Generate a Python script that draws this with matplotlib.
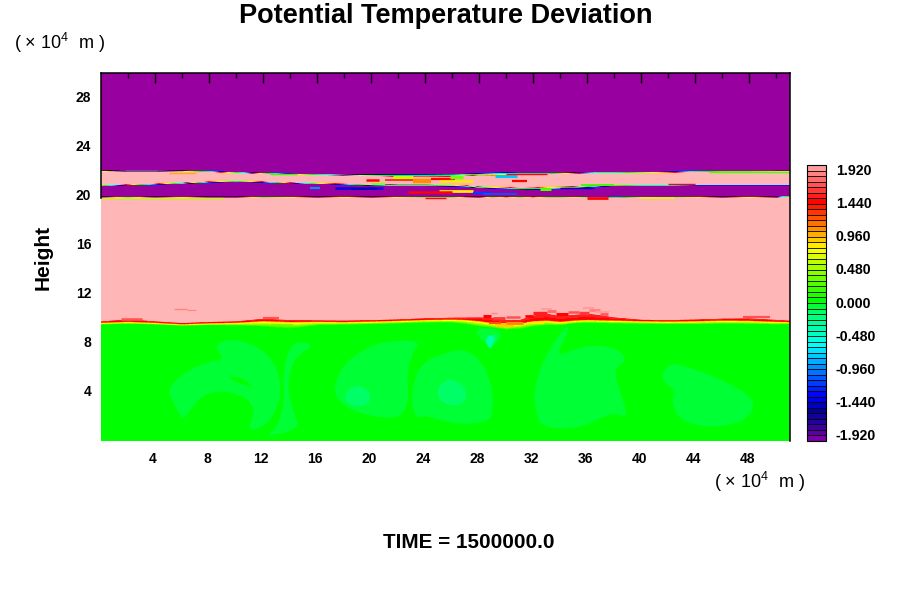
import numpy as np
import matplotlib
matplotlib.use("Agg")
import matplotlib.pyplot as plt
from matplotlib.colors import LinearSegmentedColormap, Normalize
from matplotlib.cm import ScalarMappable
from matplotlib.path import Path
from matplotlib.patches import PathPatch
from matplotlib.transforms import ScaledTranslation

plt.rcParams['font.family'] = ['Liberation Sans', 'DejaVu Sans']
plt.rcParams['mathtext.default'] = 'regular'

TITLE = "Potential Temperature Deviation"
TIME_LABEL = "TIME = 1500000.0"
Y_LABEL = "Height"
UNIT = r"( $\times$ 10$^{4}$  m )"

stations = [0,2,4,6,8,10,12,14,16,18,20,22,24,26,27,28,29,30,31,32,33,34,35,36,37,38,40,42,44,46,48,50,51]
tropopause = [9.72,9.8,9.72,9.6,9.68,9.72,9.85,9.78,9.8,9.78,9.82,9.88,9.95,9.98,9.95,9.85,9.7,9.5,9.65,9.85,9.9,9.8,9.9,9.95,9.92,9.9,9.85,9.82,9.85,9.9,9.88,9.8,9.78]
fringe_below = [.2,.25,.2,.18,.22,.28,.5,.6,.35,.28,.28,.28,.28,.3,.4,.5,.45,.4,.5,.5,.45,.35,.3,.3,.3,.3,.28,.28,.32,.32,.32,.28,.22]
red_above = [.05,.14,.06,.04,.05,.06,.14,.1,.06,.06,.06,.06,.08,.1,.14,.25,.35,.4,.25,.4,.5,.4,.4,.45,.35,.2,.06,.06,.08,.1,.14,.1,.06]
stratus_base = [19.85,19.82,19.85,19.83,19.85,19.85,19.82,19.83,19.85,19.83,19.85,19.83,19.82,19.82,19.84,19.85,19.82,19.84,19.82,19.84,19.82,19.82,19.83,19.82,19.83,19.8,19.83,19.82,19.83,19.85,19.83,19.85,19.9]
mid_layer = [20.86,20.92,20.98,21.05,21.15,21.2,21.15,21.08,21.02,20.98,20.92,20.88,20.88,20.85,20.82,20.72,20.68,20.66,20.62,20.62,20.65,20.68,20.72,20.78,20.84,20.86,20.88,20.88,20.9,20.9,20.9,20.9,20.9]
mid_width = [.06,.06,.07,.08,.08,.08,.07,.06,.06,.07,.1,.1,.1,.1,.1,.1,.1,.1,.1,.12,.16,.14,.12,.12,.1,.08,.06,.06,.06,.06,.06,.06,.06]
top_layer = [21.95,21.98,21.98,21.96,21.92,21.85,21.78,21.72,21.68,21.65,21.62,21.6,21.6,21.62,21.66,21.7,21.72,21.74,21.75,21.76,21.76,21.78,21.8,21.82,21.84,21.84,21.86,21.88,21.92,21.94,21.94,21.95,21.95]
top_width = [.08,.08,.08,.08,.07,.07,.07,.07,.08,.08,.1,.14,.16,.16,.14,.12,.16,.16,.12,.08,.08,.08,.07,.07,.07,.07,.07,.07,.07,.07,.07,.08,.08]

# (x start, x end, height, width in points, value)
streaks = [
    (15.5,16.2,20.6,1.6,-0.9),(17.3,20.9,20.6,1.8,-1.4),(18.5,20.4,20.52,1.4,-1.5),
    (19.6,20.6,21.25,1.8,1.5),(20.0,21.0,20.95,1.6,0.4),(21.6,23.1,21.56,2.2,0.6),
    (23.1,24.4,21.2,3.2,1.05),(21.0,23.1,21.3,1.2,1.4),(24.4,26.2,21.35,1.6,1.5),
    (25.8,26.8,21.55,2.5,0.35),(25.0,27.5,21.2,1.8,0.85),(29.2,30.8,21.62,2.2,-0.8),
    (30.4,31.5,21.2,1.6,1.5),(25.0,27.5,20.35,2.0,0.8),(22.7,26.0,20.3,1.8,1.5),
    (27.5,28.8,20.25,1.6,-1.2),(28.3,30.8,20.14,1.3,-1.1),(32.5,33.3,20.58,2.2,0.3),
    (34.0,36.5,20.62,1.0,-1.4),(35.5,38.0,20.9,1.3,0.2),
    (5.0,7.0,21.88,1.0,1.0),(12.5,14.5,21.75,1.0,0.2),(30.0,33.0,21.8,1.0,1.5),
    (45.0,51.0,21.92,1.0,0.3),(42.0,44.0,20.95,1.0,1.5),(36.0,37.5,19.78,2.0,1.5),
    (24.0,25.5,19.8,1.0,1.5),(0.0,9.0,19.82,1.0,0.6),(40.0,42.5,19.8,1.2,0.7),
    (5.4,6.4,10.8,1.0,1.9),(6.4,7.0,10.65,0.8,1.9),
    # ragged top of the troposphere, red and pale red specks
    (28.3,28.9,10.15,2.2,1.5),(29.0,29.9,10.05,2.0,1.6),(30.0,31.0,10.1,1.8,1.7),
    (31.4,32.0,10.15,2.0,1.5),(32.0,33.0,10.4,2.4,1.55),(33.0,33.7,10.62,2.0,1.8),
    (33.7,34.6,10.35,2.2,1.5),(34.6,35.4,10.55,1.8,1.75),(35.4,36.1,10.4,2.4,1.6),
    (36.1,36.9,10.65,2.2,1.85),(36.9,37.5,10.38,1.8,1.7),(32.6,33.4,10.75,1.4,1.95),
    (35.7,36.5,10.85,1.4,1.95),(36.6,37.6,10.55,1.4,1.95),(28.9,29.3,10.4,1.0,1.9),
    (12.0,13.2,10.05,1.6,1.7),(1.5,3.0,9.98,1.8,1.75),(47.5,49.5,10.1,1.6,1.75),
    # yellow patches under it
    (29.2,30.6,9.45,3.0,0.95),(30.0,31.2,9.65,2.2,1.1),(28.7,29.6,9.6,1.6,1.2),
    (31.5,32.8,9.62,1.6,0.8),(33.5,34.5,9.58,1.4,0.7),(12.5,14.2,9.45,1.6,0.35),
]
lobe_value = -0.04
core_value = -0.1
background_value = 0.04
lobes = [
    [(4.89,4.15),(5.89,5.38),(7.74,6.46),(9.24,6.6),(8.24,7.82),(9.91,8.45),(12.59,7.14),(13.43,4.42),(12.93,2.25),(11.92,1.03),(10.75,.89),(11.42,2.25),(10.92,3.47),(9.24,4.1),(7.74,3.88),(6.73,2.79),(6.06,1.57),(5.39,3.07)],
    [(14.1,8.23),(15.94,7.82),(14.27,6.87),(13.76,4.42),(14.27,2.25),(14.77,1.03),(12.09,.29),(13.09,1.16),(13.6,3.34),(13.43,5.51)],
    [(17.11,4.15),(17.95,6.33),(19.96,7.82),(21.97,8.23),(23.64,8.09),(23.14,7.41),(22.64,5.51),(22.81,3.61),(22.3,1.84),(19.96,1.98),(17.95,2.79)],
    [(22.97,4.15),(23.64,6.33),(25.32,7.14),(26.99,7.55),(28.33,6.33),(29.0,4.15),(29.0,2.52),(28.83,1.57),(26.32,1.3),(23.98,2.12),(23.14,1.84)],
    [(32.02,4.15),(32.69,6.6),(34.36,9.45),(34.69,9.04),(33.52,6.73),(35.7,7.82),(38.04,7.69),(39.05,6.6),(37.88,5.92),(38.55,3.61),(39.05,1.84),(37.71,2.39),(35.7,1.03),(32.69,1.03),(32.18,2.25)],
    [(41.39,4.97),(41.89,6.19),(42.73,6.33),(46.08,4.97),(48.59,3.34),(47.76,1.57),(45.08,1.03),(42.73,1.71),(42.23,3.34),(42.56,4.15)],
    [(27.33,9.32),(30.0,9.04),(28.83,7.41)],
]
gaps = [[(9.24,5.24),(10.42,5.19),(11.42,4.29),(10.25,4.7)]]
cores = [
    [(17.95,3.75),(18.95,4.75),(20.13,3.75),(19.62,2.79),(18.29,2.93)],
    [(24.72,4.15),(25.82,5.29),(27.16,4.15),(26.83,2.93),(25.32,2.93)],
    [(28.5,8.2),(29.4,8.9),(29.1,7.6)],
]
spot_value = -0.4
spots = [[(28.4,8.4),(29.1,8.75),(29.0,7.7),(28.7,7.5)]]

x_major = [4,8,12,16,20,24,28,32,36,40,44,48]
x_minor = [2,6,10,14,18,22,26,30,34,38,42,46,50]
y_major = [4,8,12,16,20,24,28]
y_minor = [2,6,10,14,18,22,26]
bar_ticks = [-1.92,-1.44,-0.96,-0.48,0.0,0.48,0.96,1.44,1.92]
bar_labels = ["-1.920","-1.440","-0.960","-0.480","0.000","0.480","0.960","1.440","1.920"]

W, H = 900, 600
fig = plt.figure(figsize=(9, 6), dpi=100, facecolor='white')
ax = fig.add_axes([101/W, 1-441/H, 689/W, 368/H])

nodes = [(-2.0,'#7a00a8'),(-1.8,'#30009a'),(-1.6,'#000099'),(-1.36,'#0000ff'),(-0.96,'#0088ff'),
         (-0.62,'#00ffff'),(-0.48,'#00ffcc'),(-0.12,'#00ff66'),(-0.04,'#00ff33'),(0.04,'#00ff00'),
         (0.8,'#ffff00'),(1.12,'#ff8800'),(1.5,'#ff0000'),(1.75,'#ff5050'),(2.0,'#ff9c9c')]
cmap = LinearSegmentedColormap.from_list('ptd', [((v+2)/4, c) for v, c in nodes], N=50)
cmap.set_under('#9900a0')
cmap.set_over('#ffb6b6')
norm = Normalize(-2, 2)
levels = np.arange(-2, 2.0001, 0.08)

xs = np.array(stations, float)
h = np.array(tropopause); fb = np.array(fringe_below); ra = np.array(red_above)
low = np.array(stratus_base); mid = np.array(mid_layer); mw = np.array(mid_width)
top = np.array(top_layer); tw = np.array(top_width)
rows = [np.zeros_like(h), h-fb, h-0.08, h, h+ra, h+ra+0.1, low-0.07, low+0.07,
        mid-mw, mid+mw, top-tw, top+tw, np.full_like(h, 30.0)]
row_values = [background_value, background_value, 0.9, 1.45, 1.6, 2.5, 2.5, -2.5, -2.5, 2.5, 2.5, -2.5, -2.5]
Y = np.vstack(rows)
X = np.tile(xs, (len(rows), 1))
Z = np.vstack([np.full_like(h, v) for v in row_values])
ax.contourf(X, Y, Z, levels=levels, cmap=cmap, norm=norm, extend='both', zorder=1)


def smooth_patch(points, value, z):
    pts = np.array(points)
    mids = (pts + np.roll(pts, -1, axis=0)) / 2
    verts = [mids[-1]]
    codes = [Path.MOVETO]
    for p, m in zip(pts, mids):
        verts += [p, m]
        codes += [Path.CURVE3, Path.CURVE3]
    ax.add_patch(PathPatch(Path(verts, codes), facecolor=cmap(norm(value)), edgecolor='none', zorder=z))


for poly in lobes:
    smooth_patch(poly, lobe_value, 2)
for poly in gaps:
    smooth_patch(poly, background_value, 3)
for poly in cores:
    smooth_patch(poly, core_value, 3)
for poly in spots:
    smooth_patch(poly, spot_value, 4)
for x0, x1, yy, lw, val in streaks:
    ax.plot([x0, x1], [yy, yy], color=cmap(norm(val)), lw=lw, solid_capstyle='butt', zorder=4)

ax.set_xlim(0, 51)
ax.set_ylim(0, 30)
ax.set_xticks(x_major)
ax.set_xticks(x_minor, minor=True)
ax.set_yticks(y_major)
ax.set_yticks(y_minor, minor=True)
ax.tick_params(which='major', direction='in', length=7.2, width=1.0, top=True, bottom=False,
               left=True, right=True, pad=7)
ax.tick_params(which='minor', direction='in', length=3.6, width=1.0, top=True, bottom=False,
               left=True, right=True)
ax.tick_params(axis='x', which='major', pad=8)
for t in ax.yaxis.get_major_ticks() + ax.yaxis.get_minor_ticks():
    if t.get_loc() < 20:
        t.tick1line.set_visible(False)
        t.tick2line.set_visible(False)
for lab in ax.get_xticklabels() + ax.get_yticklabels():
    lab.set_fontsize(10)
    lab.set_fontweight('bold')
for lab in ax.get_yticklabels():
    lab.set_transform(lab.get_transform() + ScaledTranslation(0, 1.5/100, fig.dpi_scale_trans))
for lab in ax.get_xticklabels():
    lab.set_transform(lab.get_transform() + ScaledTranslation(-2/100, 0, fig.dpi_scale_trans))
ax.spines['bottom'].set_visible(False)
ax.spines['left'].set_bounds(19.85, 30)
for s in ax.spines.values():
    s.set_linewidth(1.1)
    s.set_zorder(6)

cax = fig.add_axes([807/W, 1-441/H, 19/W, 276/H])
cb = fig.colorbar(ScalarMappable(norm=norm, cmap=cmap), cax=cax, drawedges=True,
                  boundaries=levels, ticks=bar_ticks, spacing='uniform')
cb.dividers.set_color('black')
cb.dividers.set_linewidth(0.6)
cb.outline.set_edgecolor('black')
cb.outline.set_linewidth(0.8)
cax.tick_params(length=0, pad=7)
cax.set_yticklabels(bar_labels, fontsize=10.2, fontweight='bold')
for lab in cax.get_yticklabels():
    lab.set_transform(lab.get_transform() + ScaledTranslation(0, 1/100, fig.dpi_scale_trans))


def px_text(px, py, s, **kw):
    fig.text(px/W, 1-py/H, s, ha='center', va='center', **kw)


px_text(446, 16, TITLE, fontsize=19.5, fontweight='bold')
px_text(469, 542, TIME_LABEL, fontsize=14.9, fontweight='bold')
px_text(43, 257, Y_LABEL, fontsize=15, fontweight='bold', rotation=90)
px_text(60, 43, UNIT, fontsize=13)
px_text(760, 482, UNIT, fontsize=13)

fig.savefig('out.png', dpi=100)
